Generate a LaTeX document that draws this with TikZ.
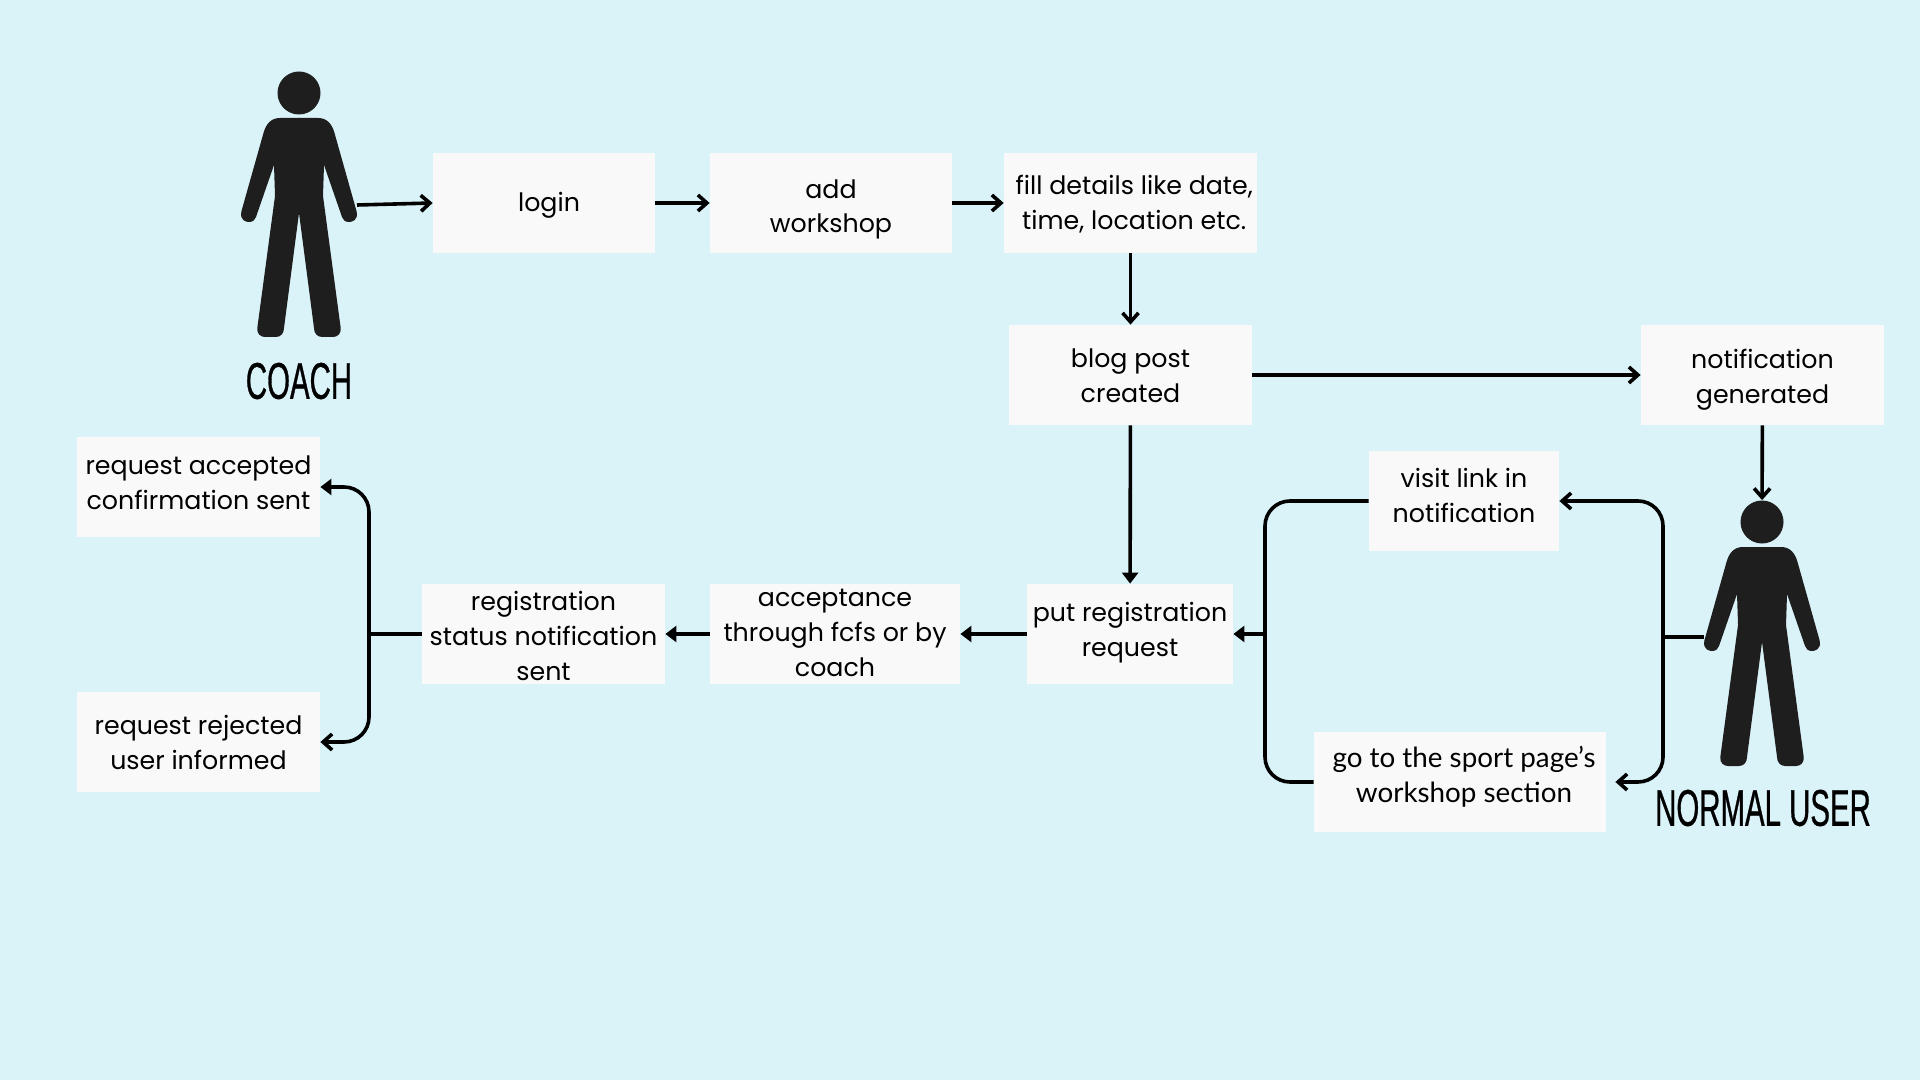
\documentclass[tikz,border=0pt]{standalone}
\usepackage{fontspec}
\setmainfont{Poppins}
\newfontfamily\lblfont{Lato}
\newfontfamily\actorfont[FakeStretch=0.57,FakeBold=0.6]{Liberation Sans}
\usetikzlibrary{arrows.meta}
\definecolor{pagebg}{HTML}{DAF3F9}
\definecolor{boxfill}{HTML}{F9F9F9}
\definecolor{figfill}{HTML}{1E1E1E}
% text of a box, moved up or down inside it
\newcommand{\lift}[2]{\raisebox{#1}[0pt][0pt]{\begin{tabular}{@{}c@{}}#2\end{tabular}}}
\tikzset{
    stepbox/.style={fill=boxfill, inner sep=0pt, minimum height=50pt, font=\fontsize{12.65}{17.4}\selectfont},
    flow/.style={draw=black, line width=1.8pt, -{Straight Barb[length=4.5pt,width=8pt]}},
    flowfill/.style={draw=black, line width=1.8pt, -{Triangle[length=5.5pt,width=8pt]}},
    line/.style={draw=black, line width=1.8pt},
    turn/.style={rounded corners=12.5pt},
    actor/.style={font=\actorfont\fontsize{25.8}{26}\selectfont},
    person/.pic={
        \node[circle, fill=figfill, minimum size=21.5pt, inner sep=0pt] (-head) at (0,0) {};
        \foreach \side in {1,-1}
            \fill[figfill, xscale=\side] (-0.5,25) -- (19,25) .. controls (28,25) and (33,31) .. (35.5,40)
                -- (57.5,118) .. controls (60,128) and (52,129) .. (50,129) .. controls (46,129) and (44,127) .. (43,124)
                -- (25,72) -- (24,103) -- (41.7,235) .. controls (42.5,241) and (38,244) .. (34,244)
                -- (23,244) .. controls (18,244) and (15,240) .. (15,235) -- (0,120) -- (-0.5,118) -- cycle;
    }
}
\begin{document}
\begin{tikzpicture}[x=0.5pt, y=-0.5pt]
    \fill[pagebg] (0,0) rectangle (1920,1080);
    \useasboundingbox (0,0) rectangle (1920,1080);

    % Figures
    \pic (coach) at (299,93) {person};
    \pic (user) at (1762,522) {person};
    \node[actor] (coachname) at (299,381) {COACH};
    \node[actor] (username) at (1763,808) {NORMAL USER};
    \coordinate (coachhand) at (357,205);
    \coordinate (userhand) at (1704,637);

    % Top row
    \node[stepbox, minimum width=111pt] (login) at (544,203) {\hspace*{5pt}\lift{-3.7pt}{login}};
    \node[stepbox, minimum width=121pt] (addws) at (831,203) {\lift{-5.8pt}{add\\workshop}};
    \node[stepbox, minimum width=126.5pt] (details) at (1130.5,203) {\hspace*{3.7pt}\lift{-4pt}{fill details like date,\\time, location etc.}};
    \node[stepbox, minimum width=121.5pt] (blog) at (1130.5,375) {\lift{-4.6pt}{blog post\\created}};
    \node[stepbox, minimum width=121.5pt] (notif) at (1762.5,375) {\lift{-4.9pt}{notification\\generated}};

    % Registration row
    \node[stepbox, minimum width=103pt] (put) at (1130,634) {\lift{-2.2pt}{put registration\\request}};
    \node[stepbox, minimum width=125pt] (accept) at (835,634) {\lift{-3.2pt}{acceptance\\through fcfs or by\\coach}};
    \node[stepbox, minimum width=121.5pt] (status) at (543.5,634) {\lift{-5.3pt}{registration\\status notification\\sent}};
    \node[stepbox, minimum width=121.5pt] (accepted) at (198.5,487) {\lift{-2.2pt}{request accepted\\confirmation sent}};
    \node[stepbox, minimum width=121.5pt] (rejected) at (198.5,742) {\lift{-4.6pt}{request rejected\\user informed}};

    % Ways in for the user
    \node[stepbox, minimum width=95pt] (visit) at (1464,501) {\lift{-1.55pt}{visit link in\\notification}};
    \node[stepbox, minimum width=146pt, font=\lblfont\fontsize{13.9}{17.4}\selectfont] (sport) at (1460,782) {\hspace*{4pt}\lift{-1.55pt}{go to the sport page’s\\workshop section}};

    % Trunk points
    \coordinate (trunkuser) at (1663,637);
    \coordinate (trunkput) at (1265,634);
    \coordinate (trunkstatus) at (369,634);

    % Top connectors
    \draw[flow] (coachhand) -- (login.west);
    \draw[flow] (login) -- (addws);
    \draw[flow] (addws) -- (details);
    \draw[flow] (details) -- (blog);
    \draw[flow] (blog) -- (notif);
    \draw[flowfill] (blog) -- (put);
    \draw[flow] (notif) -- (user-head);

    % Left chain
    \draw[flowfill] (put) -- (accept);
    \draw[flowfill] (accept) -- (status);
    \draw[line] (status) -- (trunkstatus);
    \draw[flowfill, turn] (trunkstatus) |- (accepted);
    \draw[flow, turn] (trunkstatus) |- (rejected);

    % Loops
    \draw[line] (userhand) -- (trunkuser);
    \draw[flow, turn] (trunkuser) |- (visit);
    \draw[flow, turn, shorten >=4.5pt] (trunkuser) |- (sport);
    \draw[line, turn] (visit) -| (trunkput);
    \draw[line, turn] (sport) -| (trunkput);
    \draw[flowfill] (trunkput) -- (put);
\end{tikzpicture}
\end{document}
